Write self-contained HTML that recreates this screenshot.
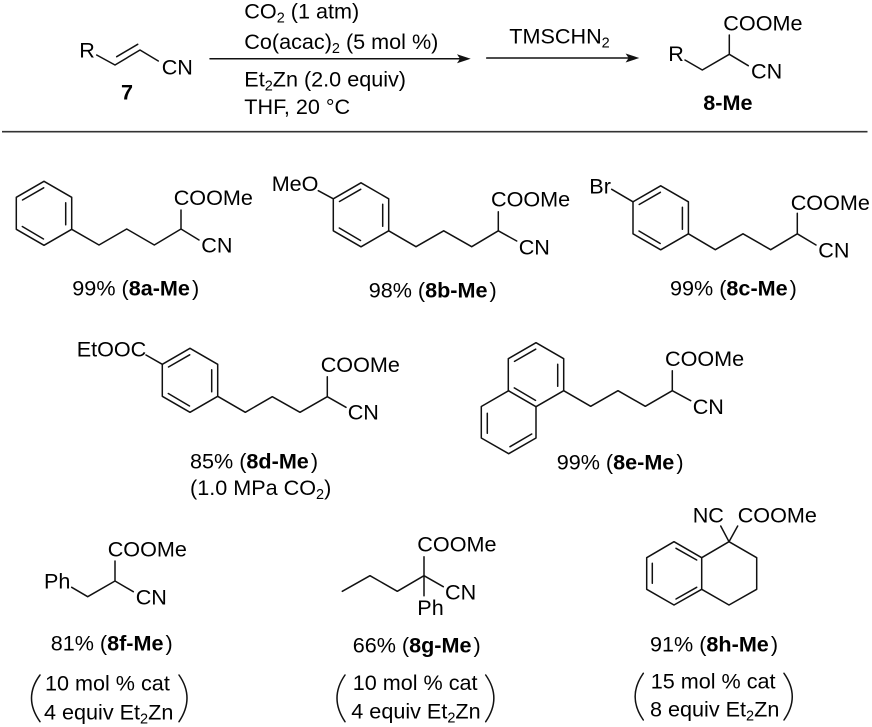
<!DOCTYPE html>
<html><head><meta charset="utf-8"><title>Scheme</title>
<style>
html,body{margin:0;padding:0;background:#fff}
svg{display:block}
text{font-family:"Liberation Sans",Arial,sans-serif;font-size:21.6px;fill:#000}
.b{font-weight:bold}
.l{fill:none;stroke:#111;stroke-width:1.5;stroke-linejoin:round;stroke-linecap:round}
</style></head><body>
<svg width="872" height="727" viewBox="0 0 872 727" xmlns="http://www.w3.org/2000/svg">
<defs>
<g id="ring" class="l"><path d="M0,-32L27.7,-16V16L0,32L-27.7,16V-16Z"/><path d="M-21.5,-13.3L-.3,-25.5M21.7,-10.5V11.5M-21.7,13.2L-.5,25.7"/></g>
</defs>

<!-- top reaction -->
<g class="l">
<path d="M96.7,55L115,65L140,50L158.3,61M116.7,56.7L137.7,44.3"/>
<path d="M685,60L702.3,70L729.3,54.3V35M729.3,54.3L748.3,65.7"/>
<path d="M210,58.7H460M486.7,58H628"/>
</g>
<path d="M470.7,58.7L457,54.2L460,58.7L457,63.2Z M639.3,58L625.6,53.5L628.6,58L625.6,62.5Z" fill="#111"/>
<path d="M2,131.7H867.5" stroke="#333" stroke-width="1.7" fill="none"/>
<text x="79.3" y="57.3">R</text>
<text x="161.7" y="74.3">CN</text>
<text x="121" y="99.3" class="b">7</text>
<text x="244.3" y="18.7">CO<tspan font-size="14.5" dy="4">2</tspan><tspan dy="-4"> (1 atm)</tspan></text>
<text x="244.3" y="49">Co(acac)<tspan font-size="14.5" dy="4">2</tspan><tspan dy="-4"> (5 mol %)</tspan></text>
<text x="244.3" y="86.7">Et<tspan font-size="14.5" dy="4">2</tspan><tspan dy="-4">Zn (2.0 equiv)</tspan></text>
<text x="244.3" y="114">THF, 20 °C</text>
<text x="509.3" y="43.3">TMSCHN<tspan font-size="14.5" dy="4">2</tspan></text>
<text x="668.3" y="61">R</text>
<text x="723.3" y="30.7">COOMe</text>
<text x="751" y="78.3">CN</text>
<text x="703.3" y="110" class="b">8-Me</text>

<!-- 8a -->
<use href="#ring" x="44" y="213.3"/>
<path class="l" d="M71.7,229.3L99,245L126.7,229L154.3,245L181,229V210M181,229L199,240"/>
<text x="173.7" y="205">COOMe</text>
<text x="201.3" y="252.7">CN</text>
<text x="72.3" y="295.7">99% (<tspan class="b">8a-Me</tspan><tspan dx="2">)</tspan></text>

<!-- 8b -->
<use href="#ring" x="361" y="214.8"/>
<path class="l" d="M318.3,190.7L333.3,198.8M388.7,230.8L416,246.7L443.7,230.8L471.7,246.7L498.3,230.8V211.7M498.3,230.8L516.7,241"/>
<text x="271.7" y="191">MeO</text>
<text x="491" y="206.7">COOMe</text>
<text x="518.7" y="254.3">CN</text>
<text x="368.7" y="297.3">98% (<tspan class="b">8b-Me</tspan><tspan dx="2">)</tspan></text>

<!-- 8c -->
<use href="#ring" x="660.7" y="217.8"/>
<path class="l" d="M611.7,189.3L633,201.8M688.4,233.8L715.3,249.7L743,233.8L770.7,249.7L797.3,233.8V213.3M797.3,233.8L816,245"/>
<text x="589.3" y="193.7">Br</text>
<text x="790.7" y="210">COOMe</text>
<text x="818.3" y="257.7">CN</text>
<text x="670" y="295.7">99% (<tspan class="b">8c-Me</tspan><tspan dx="2">)</tspan></text>

<!-- 8d -->
<use href="#ring" x="190" y="380.3"/>
<path class="l" d="M146,355L162.3,364.3M217.7,396.3L245.3,412.3L272.3,396.7L300,412.3L327.3,396.7V376.7M327.3,396.7L346,407.3"/>
<text x="76.7" y="356.7">EtOOC</text>
<text x="320.7" y="372">COOMe</text>
<text x="347.7" y="419.3">CN</text>
<text x="190" y="468.3">85% (<tspan class="b">8d-Me</tspan><tspan dx="2">)</tspan></text>
<text x="190" y="495">(1.0 MPa CO<tspan font-size="14.5" dy="4">2</tspan><tspan dy="-4">)</tspan></text>

<!-- 8e -->
<use href="#ring" x="536" y="374.7"/>
<path class="l" d="M536,406.7V438L508.7,453.7L481.3,438V406.5L508.7,390.7M487.3,413.3V433.3M510,446.7L531.7,434"/>
<path class="l" d="M563.7,390.7L590.7,406.3L618,390.7L645.3,406.3L672.3,390.7V370.7M672.3,390.7L690.7,400.7"/>
<text x="665" y="366">COOMe</text>
<text x="692.7" y="414">CN</text>
<text x="556.7" y="469.3">99% (<tspan class="b">8e-Me</tspan><tspan dx="2">)</tspan></text>

<!-- 8f -->
<path class="l" d="M71.7,587.3L87.7,596.7L115,581V561M115,581L133.3,591.7"/>
<text x="44" y="588.3">Ph</text>
<text x="107.7" y="556.7">COOMe</text>
<text x="135.7" y="604.7">CN</text>
<text x="50.7" y="650.7">81% (<tspan class="b">8f-Me</tspan><tspan dx="2">)</tspan></text>
<text x="45" y="690.7">10 mol % cat</text>
<text x="44" y="719.3">4 equiv Et<tspan font-size="14.5" dy="4">2</tspan><tspan dy="-4">Zn</tspan></text>
<path class="l" d="M40,675Q23,698 40,721.7M179,675Q195,698 179,721.7" stroke-width="1.2"/>

<!-- 8g -->
<path class="l" d="M342.3,591.3L370,575.7L397.3,591.3L424,575.7L443.3,586.7M424,556.7V595.7"/>
<text x="417.3" y="551.7">COOMe</text>
<text x="445" y="599.3">CN</text>
<text x="417.3" y="615">Ph</text>
<text x="352.7" y="652.3">66% (<tspan class="b">8g-Me</tspan><tspan dx="2">)</tspan></text>
<text x="352.7" y="690">10 mol % cat</text>
<text x="351.3" y="718.3">4 equiv Et<tspan font-size="14.5" dy="4">2</tspan><tspan dy="-4">Zn</tspan></text>
<path class="l" d="M345,675Q329,698 345,721.7M485.7,675Q502,698 485.7,721.7" stroke-width="1.2"/>

<!-- 8h -->
<path class="l" d="M720.7,526L729,541.7L737.7,526M729,541.7L756.7,557.7V589.3L729,605L701.7,589.3V557.7L729,541.7"/>
<path class="l" d="M701.7,557.7L674,541.7L646.7,557.7V589.3L674,605L701.7,589.3M676,548.3L696.7,560M652.3,563.3V583.3M676,599L696.7,587.3"/>
<text x="692.7" y="522.7">NC</text>
<text x="737.7" y="522.7">COOMe</text>
<text x="650" y="651.7">91% (<tspan class="b">8h-Me</tspan><tspan dx="2">)</tspan></text>
<text x="650.7" y="688.7">15 mol % cat</text>
<text x="650" y="716.7">8 equiv Et<tspan font-size="14.5" dy="4">2</tspan><tspan dy="-4">Zn</tspan></text>
<path class="l" d="M643.3,673.3Q627,696.7 643.3,720M784,673.3Q800.5,696.7 784,720" stroke-width="1.2"/>
</svg>
</body></html>
